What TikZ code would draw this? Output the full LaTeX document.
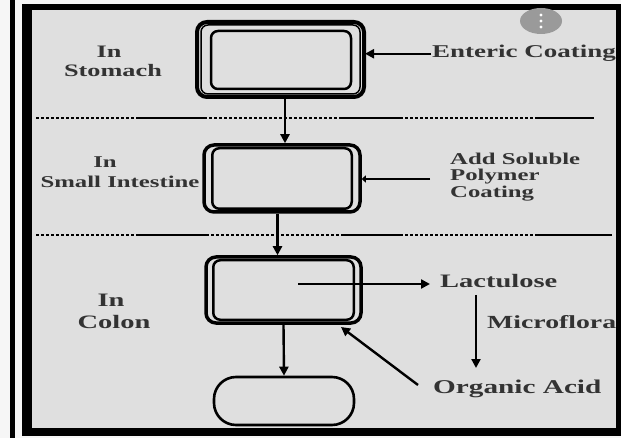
\documentclass[tikz,border=0pt]{standalone}
\usepackage{fontspec}
\setmainfont{Liberation Serif}[FakeStretch=1.5]
\usetikzlibrary{arrows.meta,calc}
\definecolor{bgpanel}{HTML}{DFDFDF}
\definecolor{bgout}{HTML}{F6F6F6}
\definecolor{badge}{HTML}{9A9A9A}
\begin{document}
\begin{tikzpicture}[x=1pt,y=-1pt,
  lbl/.style={inner sep=0pt,font=\bfseries\fontsize{#1}{#1}\selectfont,text=black!80},
  lbl/.default=19,
  arr/.style={line width=2.4pt,-{Triangle[length=9pt,width=9pt]}},
  arrsmall/.style={line width=2.4pt,-{Triangle[length=4pt,width=7pt]}},
  boxouter/.style={draw,line width=#1,rounded corners=10pt,minimum width=0pt,inner sep=0pt},
  inline/.style={line width=#1,rounded corners=7pt},
  sepline/.style={line width=2.4pt,line cap=butt},
  sepdots/.style={line width=2.4pt,dash pattern=on 3pt off 2pt}
]
\useasboundingbox (0,0) rectangle (621,438);
% backgrounds and frame
\fill[bgout] (0,0) rectangle (621,438);
\fill[black] (10,0) rectangle (15,438);
\fill[black] (22,4) rectangle (621,436);
\fill[bgpanel] (32,10) rectangle (616,428);
% badge
\fill[badge] (541,21) ellipse (21pt and 13pt);
\foreach \yy in {15,21,27} \fill[white] (541,\yy) circle (1.6pt);

% separators
\draw[sepdots] (36,118) -- (137,118);
\draw[sepline] (137,118) -- (204,118);
\draw[sepdots] (204,118) -- (341,118);
\draw[sepline] (341,118) -- (400,118);
\draw[sepdots] (400,118) -- (535,118);
\draw[sepline] (535,118) -- (594,118);

\draw[sepdots] (36,235) -- (137,235);
\draw[sepline] (137,235) -- (206,235);
\draw[sepdots] (206,235) -- (341,235);
\draw[sepline] (341,235) -- (400,235);
\draw[sepdots] (400,235) -- (535,235);
\draw[sepline] (535,235) -- (612,235);

% boxes
\node[boxouter=4pt,minimum width=167pt,minimum height=75pt] (b1) at (280.5,59.5) {};
\draw[inline=1.5pt] ([shift={(6,5)}]b1.north west) rectangle ([shift={(-6,-5)}]b1.south east);
\draw[inline=2.5pt] ([shift={(16,11)}]b1.north west) rectangle ([shift={(-15,-10)}]b1.south east);

\node[boxouter=3.5pt,minimum width=156pt,minimum height=67pt] (b2) at (282,178.5) {};
\draw[inline=2.5pt] ([shift={(10,5)}]b2.north west) rectangle ([shift={(-10,-5)}]b2.south east);

\node[boxouter=3.5pt,minimum width=155pt,minimum height=66pt] (b3) at (283.5,290) {};
\draw[inline=2.5pt] ([shift={(9,5)}]b3.north west) rectangle ([shift={(-9,-5)}]b3.south east);

\node[draw,line width=2.6pt,rounded corners=22pt,minimum width=140pt,minimum height=48pt,inner sep=0pt] (blob) at (284,401) {};

% left labels
\node[lbl=17.5,anchor=base] (s1) at (109,58) {In};
\node[lbl=17.5,anchor=base] (s2) at (113,77) {Stomach};
\node[lbl=16.5,anchor=base] (i1) at (105,168) {In};
\node[lbl=16.5,anchor=base] (i2) at (120,188) {Small Intestine};
\node[lbl=19,anchor=base] (c1) at (111,307) {In};
\node[lbl=19,anchor=base] (c2) at (114,328) {Colon};

% right labels
\node[lbl=18,anchor=base west] (ent) at (432,58) {Enteric Coating};
\node[lbl=16.5,anchor=base west] (add1) at (450,165) {Add Soluble};
\node[lbl=16.5,anchor=base west] (add2) at (450,181) {Polymer};
\node[lbl=16.5,anchor=base west] (add3) at (450,198) {Coating};
\node[lbl=19,anchor=base west] (lac) at (440,288) {Lactulose};
\node[lbl=18.5,anchor=base west] (mic) at (487,328) {Microflora};
\node[lbl=19.5,anchor=base west] (oa) at (433,393) {Organic Acid};

% connectors
\draw[arr] ([xshift=-1pt]ent.west) -- ([xshift=-1pt]ent.west -| b1.east);
\draw[arr] ([xshift=4.5pt]b1.south) -- ([xshift=3pt]b2.north);
\coordinate (a2s) at (430,179);
\draw[arrsmall] (a2s) -- (a2s -| b2.east);
\draw[arr] ([xshift=-4.5pt]b2.south) -- ([xshift=-6pt]b3.north);
\coordinate (ls) at (298,284);
\coordinate (le) at ([xshift=-10pt]lac.west);
\draw[arr] (ls) -- (ls -| le);
\coordinate (m1) at (476,295);
\coordinate (m2) at (476,368);
\draw[arr] (m1) -- (m2);
\coordinate (oas) at (418,385);
\coordinate (oae) at (341,327);
\draw[arr] (oas) -- (oae);
\draw[arr] (b3.south) -- (blob.north);
\end{tikzpicture}
\end{document}
